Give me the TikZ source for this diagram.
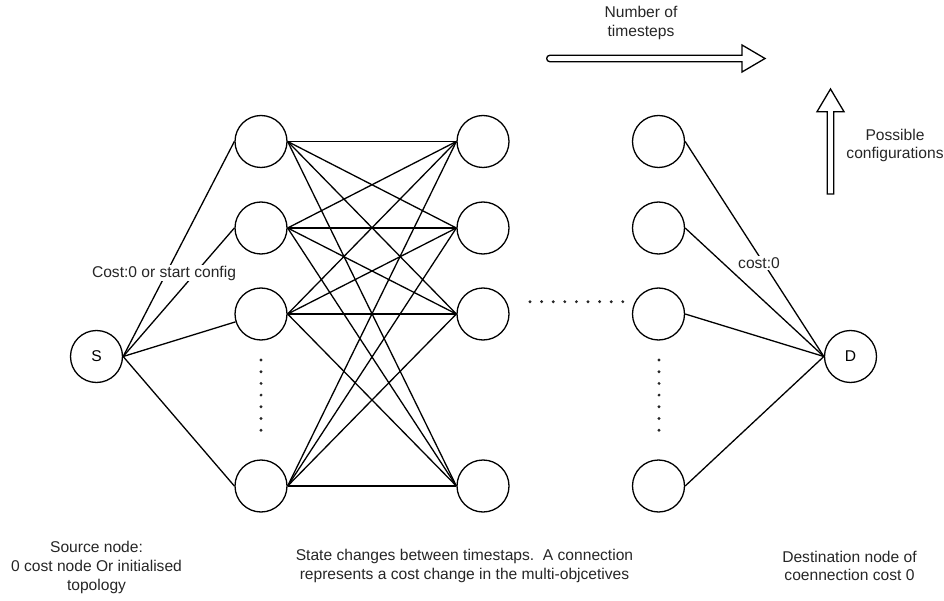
\documentclass[tikz,border=0pt]{standalone}
\usepackage{fontspec}
\setmainfont{Liberation Sans}
\begin{document}
\begin{tikzpicture}[x=1pt,y=-1pt,
  state/.style={circle, draw, line width=1.3pt, minimum size=52pt, inner sep=0pt,
                font=\fontsize{15.6}{18.7}\selectfont},
  link/.style={line width=1.3pt},
  txt/.style={font=\fontsize{15.6}{18.7}\selectfont, align=center, text=black!85},
  edgelbl/.style={txt, fill=white, inner sep=1pt},
  hollow/.style={draw, line width=1.3pt, fill=white, line join=miter},
  dotmark/.style={fill=black!85}
]
\useasboundingbox (0,0) rectangle (944,601);

% source and destination
\node[state] (s) at (96.5,356.5) {S};
\node[state] (d) at (850.5,356.5) {D};

% three columns of configurations
\foreach \n/\y in {1/141.5,2/228,3/314,4/486} {
  \node[state] (a\n) at (261,\y) {};
  \node[state] (b\n) at (483,\y) {};
  \node[state] (c\n) at (658.5,\y) {};
}

% source to first timestep
\draw[link] (s.east) -- (a1.west);
\draw[link] (s.east) -- (a2.west);
\draw[link] (s.east) -- (a3);
\draw[link] (s.east) -- (a4.west);

% every state of one timestep to every state of the next
\foreach \i in {1,2,3,4}
  \foreach \j in {1,2,3,4}
    \draw[link] (a\i.east) -- (b\j.west);

% last timestep to destination
\foreach \i in {1,2,3,4}
  \draw[link] (c\i.east) -- (d.west);

% ellipsis dots
\foreach \k in {0,...,6} {
  \fill[dotmark] (261,360+11.7*\k) circle (1.6);
  \fill[dotmark] (659,360+11.7*\k) circle (1.6);
}
\foreach \k in {0,...,8}
  \fill[dotmark] (530+11.6*\k,301.7) circle (1.6);

% hollow arrow: timesteps
\draw[hollow]
  (550,55.2) -- (742,55.2) -- (742,45) -- (765,58.5) -- (742,72) -- (742,61.8) -- (550,61.8)
  .. controls (545.6,61.8) and (545.6,55.2) .. (550,55.2) -- cycle;
% hollow arrow: configurations
\draw[hollow]
  (827.2,194) -- (827.2,111.7) -- (817,111.7) -- (830.5,89) -- (844,111.7) -- (833.8,111.7) -- (833.8,194) -- cycle;

% labels
\node[txt] (tsteps) at (641,23) {Number of\\timesteps};
\node[txt] (configs) at (895,145.5) {Possible\\configurations};
\node[edgelbl] (startlbl) at (164,273) {Cost:0 or start config};
\node[edgelbl] (endlbl) at (759,263) {cost:0};

\node[txt] (srcnote) at (96.5,567.5) {Source node:\\0 cost node Or initialised\\topology};
\node[txt] (midnote) at (464.5,566) {State changes between timestaps.\ \ A connection\\represents a cost change in the multi-objcetives};
\node[txt] (dstnote) at (849.5,566) {Destination node of\\coennection cost 0};
\end{tikzpicture}
\end{document}
